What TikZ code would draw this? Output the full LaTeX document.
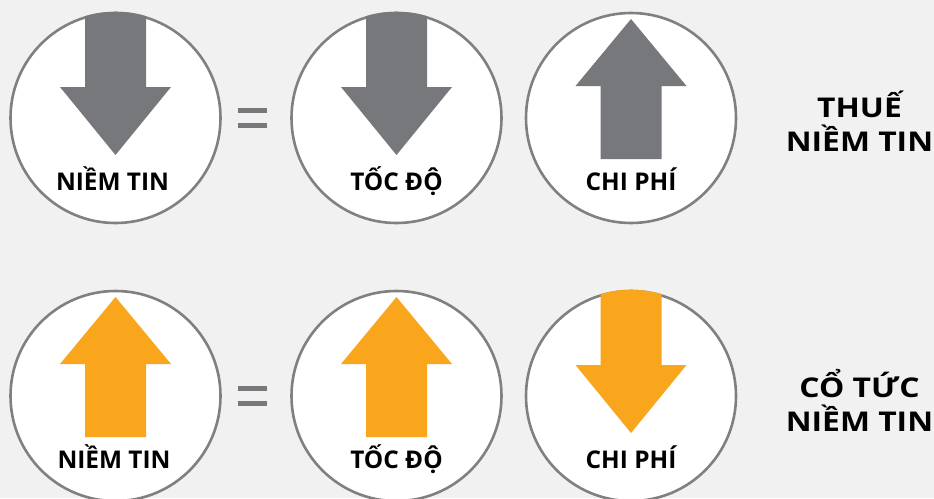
\documentclass[tikz,border=0pt]{standalone}
\usepackage{fontspec}
\setmainfont{Open Sans}
\newfontfamily\lblfont{Open Sans}
\newfontfamily\bigfont[FakeStretch=1.17]{Open Sans}
\usetikzlibrary{calc}
\definecolor{bg}{HTML}{F1F1F1}
\definecolor{arrgray}{HTML}{77787B}
\definecolor{ringgray}{HTML}{808080}
\definecolor{arrorange}{HTML}{F9A61C}
\tikzset{
  ring/.style={circle, draw=ringgray, line width=2.6pt, fill=white, minimum size=210pt, inner sep=0pt},
  lbl/.style={font=\lblfont\bfseries\fontsize{24.4}{26}\selectfont, text=black, anchor=base, inner sep=0pt},
  big/.style={font=\bigfont\bfseries\fontsize{27.2}{30}\selectfont, text=black, anchor=base, inner sep=0pt},
  eqbar/.style={fill=arrgray, draw=none, minimum width=29pt, minimum height=5pt, inner sep=0pt, rectangle},
}
\newcommand{\downarrowshape}[2]{%
  \begin{scope}
    \clip (#1) circle (106.3);
    \fill[#2] ($(#1)+(-30.5,-120)$) -- ($(#1)+(30.5,-120)$) -- ($(#1)+(30.5,-31)$)
      -- ($(#1)+(55.5,-31)$) -- ($(#1)+(0,37)$) -- ($(#1)+(-55.5,-31)$)
      -- ($(#1)+(-30.5,-31)$) -- cycle;
  \end{scope}}
\newcommand{\uparrowshape}[2]{%
  \fill[#2] ($(#1)+(0,-99)$) -- ($(#1)+(55.5,-32)$) -- ($(#1)+(30.5,-32)$)
    -- ($(#1)+(30.5,41)$) -- ($(#1)+(-30.5,41)$) -- ($(#1)+(-30.5,-32)$)
    -- ($(#1)+(-55.5,-32)$) -- cycle;}
\begin{document}
\begin{tikzpicture}[x=1pt,y=-1pt]
\fill[bg] (0,0) rectangle (934,498);
\useasboundingbox (0,0) rectangle (934,498);
% top row
\node[ring] (a1) at (115.5,118) {};
\node[ring] (a2) at (396.5,118) {};
\node[ring] (a3) at (631,118) {};
\downarrowshape{a1}{arrgray}
\downarrowshape{a2}{arrgray}
\uparrowshape{a3}{arrgray}
\node[lbl] (la1) at ($(a1)+(-3,72.5)$) {NIỀM TIN};
\node[lbl] (la2) at ($(a2)+(0,72.5)$) {TỐC ĐỘ};
\node[lbl] (la3) at ($(a3)+(0,72.5)$) {CHI PHÍ};
\node[eqbar] (ea1) at (252.5,110.8) {};
\node[eqbar] (ea2) at (252.5,125.2) {};
\node[big] (ta1) at (859.5,117) {THUẾ};
\node[big] (ta2) at (859.5,151) {NIỀM TIN};
% bottom row
\node[ring] (b1) at (115.5,396) {};
\node[ring] (b2) at (396.5,396) {};
\node[ring] (b3) at (631,396) {};
\uparrowshape{b1}{arrorange}
\uparrowshape{b2}{arrorange}
\downarrowshape{b3}{arrorange}
\node[lbl] (lb1) at ($(b1)+(-1.5,72.5)$) {NIỀM TIN};
\node[lbl] (lb2) at ($(b2)+(0,72.5)$) {TỐC ĐỘ};
\node[lbl] (lb3) at ($(b3)+(0,72.5)$) {CHI PHÍ};
\node[eqbar] (eb1) at (252.5,388.8) {};
\node[eqbar] (eb2) at (252.5,403.8) {};
\node[big] (tb1) at (859.5,397.5) {CỔ TỨC};
\node[big] (tb2) at (859.5,431) {NIỀM TIN};
\end{tikzpicture}
\end{document}
